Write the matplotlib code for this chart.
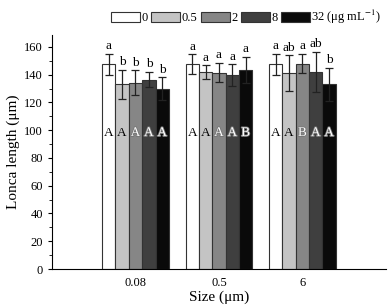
import matplotlib
matplotlib.use("Agg")
import matplotlib.pyplot as plt
import matplotlib.patheffects as pe
import numpy as np

plt.rcParams['font.family'] = ['Liberation Serif', 'DejaVu Serif']
plt.rcParams['mathtext.fontset'] = 'stix'

sizes = ['0.08', '0.5', '6']
concentrations = ['0', '0.5', '2', '8', '32 (μg mL$^{-1}$)']
# values per concentration across sizes
mean_c0 = [147.5, 147.7, 147.5]
mean_c05 = [133.0, 142.0, 141.0]
mean_c2 = [134.0, 141.5, 148.0]
mean_c8 = [136.5, 139.6, 142.0]
mean_c32 = [130.0, 143.4, 133.0]
err_c0 = [7.5, 7.0, 7.5]
err_c05 = [10.5, 5.0, 13.0]
err_c2 = [9.0, 7.0, 7.0]
err_c8 = [5.5, 8.0, 14.5]
err_c32 = [8.0, 9.5, 12.0]
lower_letters = [['a', 'a', 'a'], ['b', 'a', 'ab'], ['b', 'a', 'a'], ['b', 'a', 'ab'], ['b', 'a', 'b']]
upper_letters = [['A', 'A', 'A'], ['A', 'A', 'A'], ['A', 'A', 'B'], ['A', 'A', 'A'], ['A', 'B', 'A']]

all_means = [mean_c0, mean_c05, mean_c2, mean_c8, mean_c32]
all_errs = [err_c0, err_c05, err_c2, err_c8, err_c32]
colors = ['#ffffff', '#c4c4c4', '#868686', '#3f3f3f', '#0a0a0a']

fig = plt.figure(figsize=(3.91, 3.05), dpi=100)
ax = fig.add_axes([0.133, 0.118, 0.854, 0.767])

x = np.arange(len(sizes))
w = 0.16
handles = []
for i in range(5):
    pos = x + (i - 2) * w
    b = ax.bar(pos, all_means[i], width=w, color=colors[i], edgecolor='#333333', linewidth=0.8,
               label=concentrations[i], zorder=2)
    handles.append(b)
    ax.errorbar(pos, all_means[i], yerr=all_errs[i], fmt='none', ecolor='#222222',
                elinewidth=0.9, capsize=3, capthick=0.9, zorder=3)
    for j in range(len(sizes)):
        top = all_means[i][j] + all_errs[i][j]
        ax.text(pos[j], top + 1.0, lower_letters[i][j], ha='center', va='bottom', fontsize=9.5)
        if i < 2:
            ax.text(pos[j], 98, upper_letters[i][j], ha='center', va='center', fontsize=9.5, color='black')
        else:
            t = ax.text(pos[j], 98, upper_letters[i][j], ha='center', va='center', fontsize=9.5, color='white')
            t.set_path_effects([pe.Stroke(linewidth=1.2, foreground='#777777'), pe.Normal()])

ax.set_xlim(-1.0, 3.0)
ax.set_ylim(0, 168.5)
ax.set_yticks(np.arange(0, 161, 20))
ax.set_yticks(np.arange(0, 161, 10), minor=True)
ax.set_xticks(x)
ax.set_xticklabels(sizes)
ax.tick_params(axis='x', length=0, labelsize=9, pad=6)
ax.tick_params(axis='y', which='major', length=3, labelsize=9, direction='out')
ax.tick_params(axis='y', which='minor', length=2, direction='out')
for s in ['top', 'right']:
    ax.spines[s].set_visible(False)
ax.set_xlabel('Size (μm)', fontsize=11, labelpad=1)
ax.set_ylabel('Lonca length (μm)', fontsize=11, labelpad=3)

fig.legend(handles=handles, labels=concentrations, loc='upper center', bbox_to_anchor=(0.63, 1.01),
           ncol=5, frameon=False, handlelength=2.3, handleheight=0.9, handletextpad=0.15,
           columnspacing=0.25, fontsize=9)

fig.savefig('out.png', dpi=100)
